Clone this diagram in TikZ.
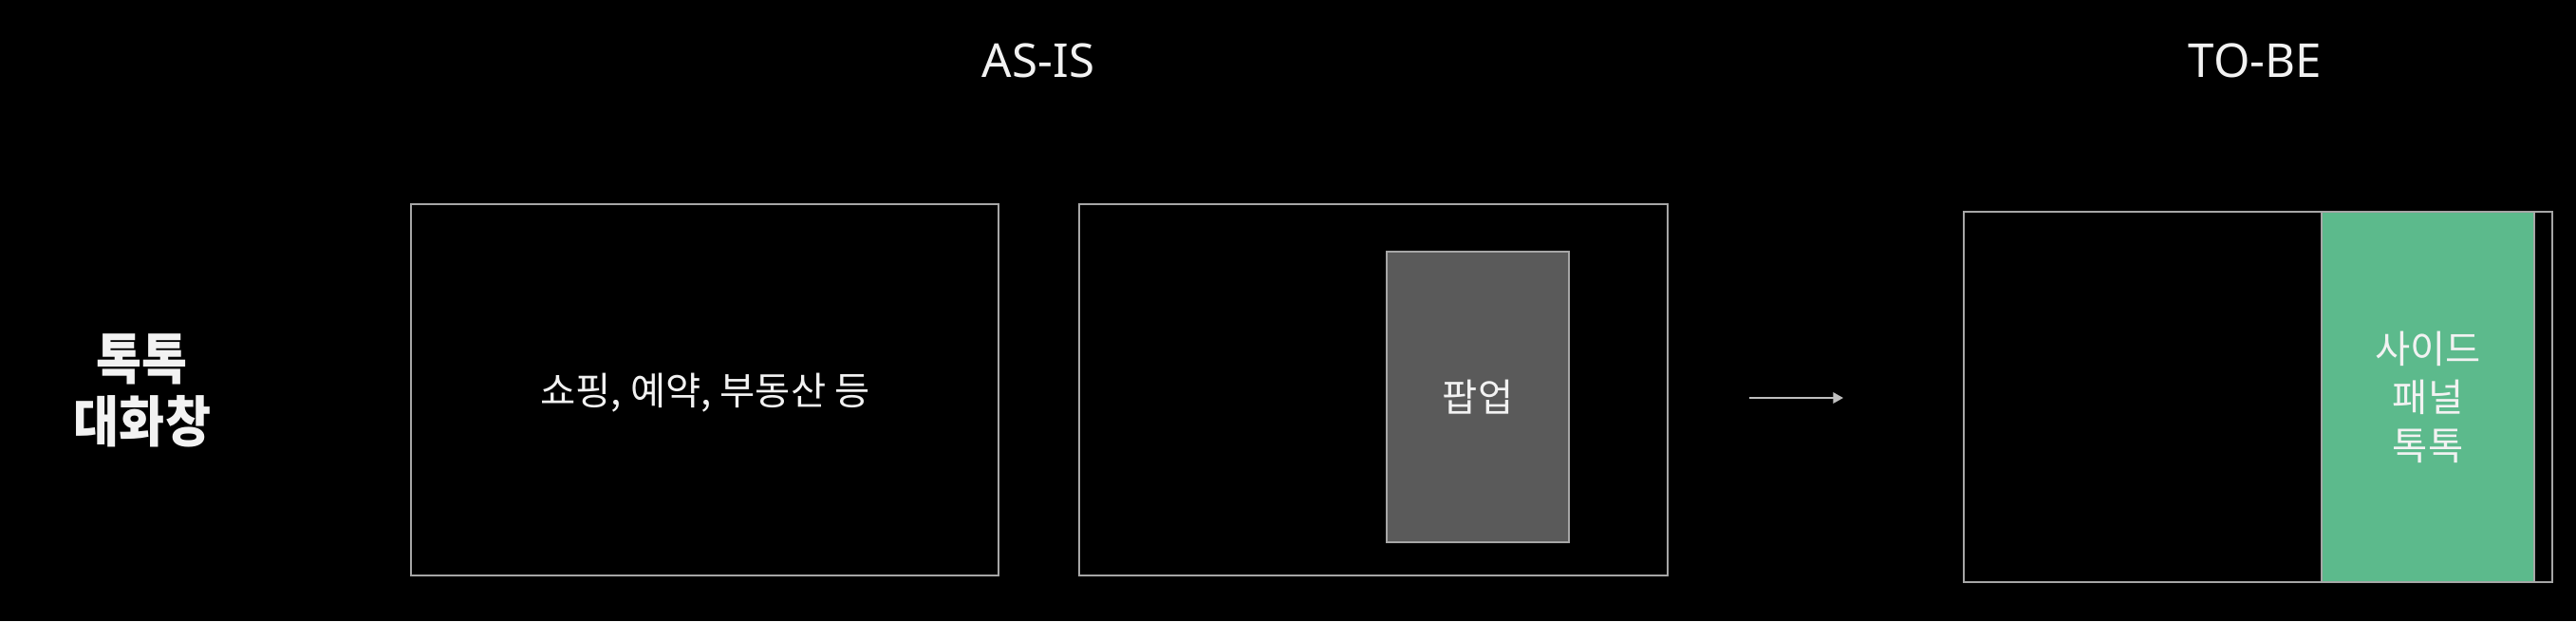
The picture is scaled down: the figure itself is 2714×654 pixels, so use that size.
\documentclass[tikz,border=0pt]{standalone}
\usepackage{fontspec}
\usetikzlibrary{arrows.meta}
\newfontfamily\krfont{Noto Sans CJK KR}
\newfontfamily\krhead[FakeStretch=0.9]{Noto Sans CJK KR}
\newfontfamily\titlefont{Noto Sans}
\definecolor{framegray}{HTML}{A6A6A6}
\definecolor{textwhite}{HTML}{F2F2F2}
\definecolor{popupgray}{HTML}{5A5A5A}
\definecolor{panelgreen}{HTML}{5CBA8C}
\definecolor{arrowgray}{HTML}{BFBFBF}

\begin{document}
\begin{tikzpicture}[x=0.01cm,y=-0.01cm,
    frame/.style={draw=framegray,line width=0.6pt},
    label/.style={text=textwhite,align=center,inner sep=0pt},
    boxtext/.style={label,font=\krfont\fontsize{11.5}{14.5}\selectfont},
    title/.style={label,font=\titlefont\fontsize{14}{16}\selectfont},
    flow/.style={draw=arrowgray,line width=0.6pt,-{Triangle[length=3pt,width=3.2pt]}}]
    		\fill[black] (0,0) rectangle (2714,654);
    		\draw[frame] (433,215) rectangle (1052,606);
    		\draw[frame] (1137,215) rectangle (1757,606);
    		\draw[frame,fill=popupgray] (1461,265) rectangle (1653,571);
    		\draw[frame] (2069,223) rectangle (2689,613);
    		\draw[frame,fill=panelgreen] (2446,223) rectangle (2670,613);
    		\node (asis) at (1094,64) [title] {AS-IS};
    		\node (tobe) at (2376,64) [title] {TO-BE};
    		\node (chat) at (150,411) [label,font=\krhead\bfseries\fontsize{16.5}{18.8}\selectfont] {톡톡\\대화창};
    		\node (service) at (743,414) [boxtext] {쇼핑, 예약, 부동산 등};
    		\node (popup) at (1557,418) [boxtext] {팝업};
    		\node (panel) at (2558,418) [boxtext] {사이드\\패널\\톡톡};
    		\coordinate (from) at (1843,419);
    		\coordinate (to) at (1942,419);
    		\draw[flow] (from) -- (to);
    		\end{tikzpicture}
\end{document}
